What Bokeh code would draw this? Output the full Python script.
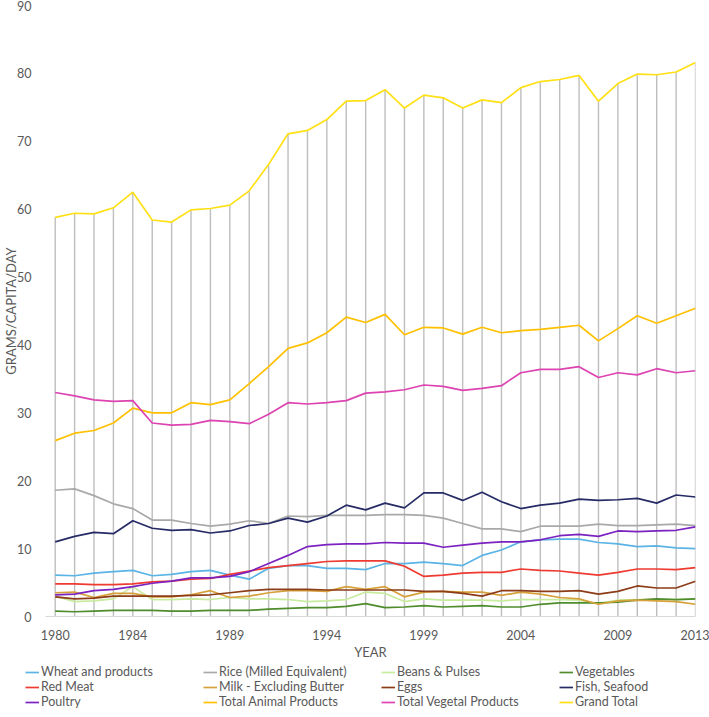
from bokeh.plotting import figure
from bokeh.models import Range1d, Legend, LegendItem, FixedTicker
from bokeh.layouts import column
from bokeh.embed import file_html
from bokeh.resources import INLINE

years = list(range(1980, 2014))

wheat = [6.1, 6.0, 6.4, 6.6, 6.8, 6.0, 6.2, 6.6, 6.8, 6.1, 5.5, 7.1, 7.5, 7.5, 7.1, 7.1, 6.9,
         7.8, 7.8, 8.0, 7.8, 7.5, 9.0, 9.8, 11.0, 11.3, 11.4, 11.4, 10.9, 10.7, 10.3, 10.4, 10.1, 10.0]
rice = [18.6, 18.8, 17.8, 16.6, 15.9, 14.2, 14.2, 13.7, 13.3, 13.6, 14.1, 13.7, 14.8, 14.7, 14.9, 14.9, 14.9,
        15.0, 15.0, 14.9, 14.5, 13.7, 12.9, 12.9, 12.5, 13.3, 13.3, 13.3, 13.6, 13.4, 13.4, 13.5, 13.6, 13.4]
beans = [3.0, 2.2, 2.3, 2.6, 4.4, 2.5, 2.5, 2.6, 2.5, 2.8, 2.6, 2.6, 2.5, 2.2, 2.3, 2.5, 3.6,
         3.4, 2.2, 2.6, 2.4, 2.4, 2.4, 2.3, 2.5, 2.5, 2.5, 2.4, 1.9, 2.4, 2.5, 2.5, 2.5, 2.6]
vegetables = [0.8, 0.7, 0.8, 0.9, 0.9, 0.9, 0.8, 0.8, 0.9, 0.9, 0.9, 1.1, 1.2, 1.3, 1.3, 1.5, 1.9,
              1.3, 1.4, 1.6, 1.4, 1.5, 1.6, 1.4, 1.4, 1.8, 2.0, 2.0, 2.0, 2.1, 2.4, 2.6, 2.5, 2.6]
red_meat = [4.8, 4.8, 4.7, 4.7, 4.8, 5.1, 5.2, 5.5, 5.6, 6.2, 6.7, 7.2, 7.5, 7.8, 8.1, 8.2, 8.2,
            8.2, 7.4, 5.9, 6.1, 6.4, 6.5, 6.5, 7.0, 6.8, 6.7, 6.4, 6.1, 6.5, 7.0, 7.0, 6.9, 7.2]
milk = [3.5, 3.6, 2.8, 3.4, 3.4, 2.9, 2.9, 3.2, 3.8, 2.8, 3.0, 3.5, 3.8, 3.8, 3.7, 4.4, 4.0,
        4.4, 2.9, 3.6, 3.7, 3.6, 3.6, 3.1, 3.6, 3.3, 2.8, 2.6, 1.8, 2.3, 2.4, 2.3, 2.2, 1.8]
eggs = [2.9, 2.6, 2.7, 3.0, 3.0, 3.0, 3.0, 3.1, 3.2, 3.5, 3.8, 4.0, 4.0, 4.0, 3.9, 3.9, 3.9,
        3.9, 3.9, 3.7, 3.7, 3.4, 3.0, 3.8, 3.8, 3.7, 3.7, 3.8, 3.3, 3.7, 4.5, 4.2, 4.2, 5.2]
fish = [11.0, 11.8, 12.4, 12.2, 14.1, 13.0, 12.7, 12.8, 12.3, 12.6, 13.4, 13.7, 14.5, 13.9, 14.8, 16.4, 15.7,
        16.7, 16.0, 18.2, 18.2, 17.1, 18.3, 16.9, 15.9, 16.4, 16.7, 17.3, 17.1, 17.2, 17.4, 16.7, 17.9, 17.6]
poultry = [3.2, 3.3, 3.8, 4.0, 4.4, 4.9, 5.2, 5.7, 5.7, 5.9, 6.6, 7.8, 9.0, 10.3, 10.6, 10.7, 10.7,
           10.9, 10.8, 10.8, 10.2, 10.5, 10.8, 11.0, 11.0, 11.3, 11.9, 12.1, 11.8, 12.6, 12.5, 12.6, 12.7, 13.2]
total_animal = [25.9, 27.0, 27.4, 28.5, 30.7, 30.0, 30.0, 31.5, 31.2, 31.9, 34.3, 36.8, 39.5, 40.3, 41.8, 44.1, 43.3,
                44.5, 41.5, 42.6, 42.5, 41.6, 42.6, 41.8, 42.1, 42.3, 42.6, 42.9, 40.6, 42.4, 44.3, 43.2, 44.3, 45.4]
total_vegetal = [33.0, 32.5, 31.9, 31.7, 31.8, 28.5, 28.2, 28.3, 28.9, 28.7, 28.4, 29.8, 31.5, 31.3, 31.5, 31.8, 32.9,
                 33.1, 33.4, 34.1, 33.9, 33.3, 33.6, 34.0, 35.9, 36.4, 36.4, 36.8, 35.2, 35.9, 35.6, 36.5, 35.9, 36.2]
grand_total = [58.8, 59.4, 59.3, 60.2, 62.5, 58.4, 58.1, 59.9, 60.1, 60.6, 62.7, 66.6, 71.1, 71.6, 73.2, 75.9, 76.0,
               77.6, 74.9, 76.8, 76.4, 74.9, 76.1, 75.7, 77.9, 78.8, 79.1, 79.7, 75.9, 78.5, 79.9, 79.8, 80.2, 81.6]

x_ticks = [1980, 1984, 1989, 1994, 1999, 2004, 2009, 2013]
y_ticks = [0, 10, 20, 30, 40, 50, 60, 70, 80, 90]

series = [
    ("Wheat and products", wheat, "#5BB4E5"),
    ("Rice (Milled Equivalent)", rice, "#A9A9A9"),
    ("Beans & Pulses", beans, "#C9EBA0"),
    ("Vegetables", vegetables, "#4E8C2C"),
    ("Red Meat", red_meat, "#EE3A30"),
    ("Milk - Excluding Butter", milk, "#D6A03A"),
    ("Eggs", eggs, "#8C3C16"),
    ("Fish, Seafood", fish, "#262B66"),
    ("Poultry", poultry, "#7C22C0"),
    ("Total Animal Products", total_animal, "#FFC000"),
    ("Total Vegetal Products", total_vegetal, "#DD44B2"),
    ("Grand Total", grand_total, "#FFE014"),
]

FONT = "Lato"
TXT = "#595959"

# ---------------- main chart ----------------
p = figure(width=709, height=664, output_backend="svg", toolbar_location=None,
           x_range=Range1d(1979.5, 2013), y_range=Range1d(0, 90),
           min_border_left=42, min_border_right=14, min_border_top=5, min_border_bottom=48)
p.frame_align = False
p.outline_line_color = None
p.xgrid.visible = False
p.ygrid.visible = False

# drop lines from the Grand Total down to the axis
p.segment(x0=years, y0=[0] * len(years), x1=years, y1=grand_total,
          line_color="#BEBEBE", line_width=1.4)

for name, vals, col in series:
    p.line(years, vals, line_color=col, line_width=1.7)

p.xaxis.ticker = FixedTicker(ticks=x_ticks)
p.yaxis.ticker = FixedTicker(ticks=y_ticks)
p.xaxis.axis_line_color = "#D9D9D9"
p.xaxis.axis_line_width = 1.2
p.yaxis.axis_line_color = None
for ax in (p.xaxis, p.yaxis):
    ax.major_tick_line_color = None
    ax.minor_tick_line_color = None
    ax.major_label_text_font = FONT
    ax.major_label_text_font_size = "12.5px"
    ax.major_label_text_color = TXT
    ax.axis_label_text_font = FONT
    ax.axis_label_text_font_size = "13px"
    ax.axis_label_text_font_style = "normal"
    ax.axis_label_text_color = TXT
p.xaxis.axis_label = "YEAR"
p.yaxis.axis_label = "GRAMS/CAPITA/DAY"
p.yaxis.axis_label_text_font_size = "13px"
p.xaxis.major_label_standoff = 7
p.yaxis.major_label_standoff = 8
p.xaxis.axis_label_standoff = 1
p.yaxis.axis_label_standoff = -5

# ---------------- legend strip ----------------
lg = figure(width=709, height=53, output_backend="svg", toolbar_location=None,
            x_range=Range1d(0, 1), y_range=Range1d(0, 1),
            x_axis_type=None, y_axis_type=None,
            min_border_left=25, min_border_right=0, min_border_top=0, min_border_bottom=0)
lg.frame_align = False
lg.outline_line_color = None
lg.xgrid.visible = False
lg.ygrid.visible = False

rows = [[], [], []]
for i, (name, vals, col) in enumerate(series):
    r = lg.line(years, vals, line_color=col, line_width=1.7)
    rows[i // 4].append(LegendItem(label=name, renderers=[r]))

row_y = [38, 23, 8]
for items, y in zip(rows, row_y):
    leg = Legend(items=items, orientation="horizontal", location=(0, y),
                 label_width=158, label_height=14, glyph_width=14, glyph_height=14,
                 label_standoff=2, spacing=4, padding=0, margin=0,
                 border_line_color=None, background_fill_alpha=0,
                 label_text_font=FONT, label_text_font_size="12.5px",
                 label_text_color=TXT)
    lg.add_layout(leg, "center")

layout = column(p, lg, spacing=0)
open("out.html", "w").write(file_html(layout, INLINE))
